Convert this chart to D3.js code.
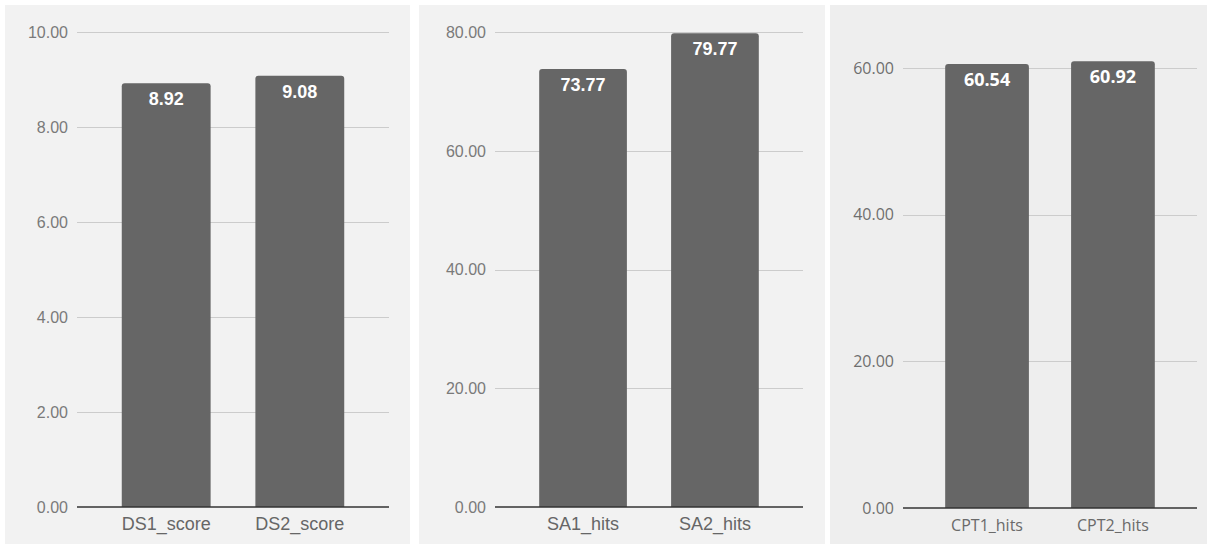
<!DOCTYPE html>
<html>
<head>
<meta charset="utf-8">
<script src="https://cdn.jsdelivr.net/npm/d3@7"></script>
<style>
body{margin:0;background:#fff;}
svg{display:block;}
</style>
</head>
<body>
<div id="chart"></div>
<script>
// data for the three panels
var dsCats = ['DS1_score','DS2_score'];
var dsVals = [8.92, 9.08];
var dsTicks = [0,2,4,6,8,10];

var saCats = ['SA1_hits','SA2_hits'];
var saVals = [73.77, 79.77];
var saTicks = [0,20,40,60,80];

var cptCats = ['CPT1_hits','CPT2_hits'];
var cptVals = [60.54, 60.92];
var cptTicks = [0,20,40,60];

var W = 1207, H = 544;
var svg = d3.select('#chart').append('svg')
	.attr('width',W).attr('height',H);

var fmt = d3.format('.2f');

function topRounded(x,y,w,h,r){
	// bar path with rounded top corners only
	return 'M'+x+','+(y+h)
		+'V'+(y+r)
		+'Q'+x+','+y+' '+(x+r)+','+y
		+'H'+(x+w-r)
		+'Q'+(x+w)+','+y+' '+(x+w)+','+(y+r)
		+'V'+(y+h)+'Z';
}

function makePanel(p){
	var g = svg.append('g');
	g.append('rect')
		.attr('x',p.bx0).attr('y',5)
		.attr('width',p.bx1-p.bx0).attr('height',H-5)
		.attr('fill',p.bg);

	var x = d3.scaleBand().domain(p.cats).range([p.left,p.right]).padding(0.335);
	var y = d3.scaleLinear().domain(p.domain).range([p.bottom,p.top]);

	// gridlines
	g.selectAll('.grid').data(p.ticks.filter(function(d){return d>0;})).enter()
		.append('line')
		.attr('x1',p.left).attr('x2',p.right)
		.attr('y1',function(d){return Math.round(y(d))+0.5;})
		.attr('y2',function(d){return Math.round(y(d))+0.5;})
		.attr('stroke','#cccccc').attr('stroke-width',1);

	// y tick labels
	g.selectAll('.ytick').data(p.ticks).enter()
		.append('text')
		.attr('x',p.left-9)
		.attr('y',function(d){return y(d);})
		.attr('dy','0.36em')
		.attr('text-anchor','end')
		.attr('font-family',p.font)
		.attr('font-size',p.tickSize)
		.attr('fill',p.tickColor)
		.text(function(d){return fmt(d);});

	// bars
	var data = p.cats.map(function(c,i){return {cat:c,val:p.vals[i]};});
	g.selectAll('.bar').data(data).enter()
		.append('path')
		.attr('fill','#666666')
		.attr('d',function(d){
			return topRounded(x(d.cat),y(d.val),x.bandwidth(),y(0)-y(d.val),3);});

	// value labels inside bar top
	g.selectAll('.val').data(data).enter()
		.append('text')
		.attr('x',function(d){return x(d.cat)+x.bandwidth()/2;})
		.attr('y',function(d){return y(d.val)+22;})
		.attr('text-anchor','middle')
		.attr('font-family',p.font)
		.attr('font-weight','bold')
		.attr('font-size',18)
		.attr('fill','#ffffff')
		.text(function(d){return fmt(d.val);});

	// baseline
	g.append('line')
		.attr('x1',p.left).attr('x2',p.right)
		.attr('y1',y(0)).attr('y2',y(0))
		.attr('stroke','#333333').attr('stroke-width',1.5);

	// x labels
	g.selectAll('.xl').data(p.cats).enter()
		.append('text')
		.attr('x',function(d){return x(d)+x.bandwidth()/2;})
		.attr('y',p.bottom+23)
		.attr('text-anchor','middle')
		.attr('font-family',p.font)
		.attr('font-size',p.xSize)
		.attr('fill',p.xColor)
		.text(function(d){return d;});
}

var arial = 'Arial, "Liberation Sans", sans-serif';
var panels = [
	{cats:dsCats,vals:dsVals,ticks:dsTicks,domain:[0,10],bx0:5,bx1:410,bg:'#f2f2f2',
		left:77,right:389,top:32,bottom:507,font:arial,tickSize:16,xSize:18,tickColor:'#7a7a7a',xColor:'#666666'},
	{cats:saCats,vals:saVals,ticks:saTicks,domain:[0,80],bx0:419,bx1:825,bg:'#f2f2f2',
		left:495,right:803,top:32,bottom:507,font:arial,tickSize:16,xSize:18,tickColor:'#7a7a7a',xColor:'#666666'},
	{cats:cptCats,vals:cptVals,ticks:cptTicks,domain:[0,60],bx0:830,bx1:1207,bg:'#eeeeee',
		left:903,right:1197,top:68,bottom:508,font:'"Open Sans", sans-serif',tickSize:16,xSize:16,tickColor:'#6e6e6e',xColor:'#6a6a6a'}
];
panels.forEach(makePanel);
</script>
</body>
</html>
